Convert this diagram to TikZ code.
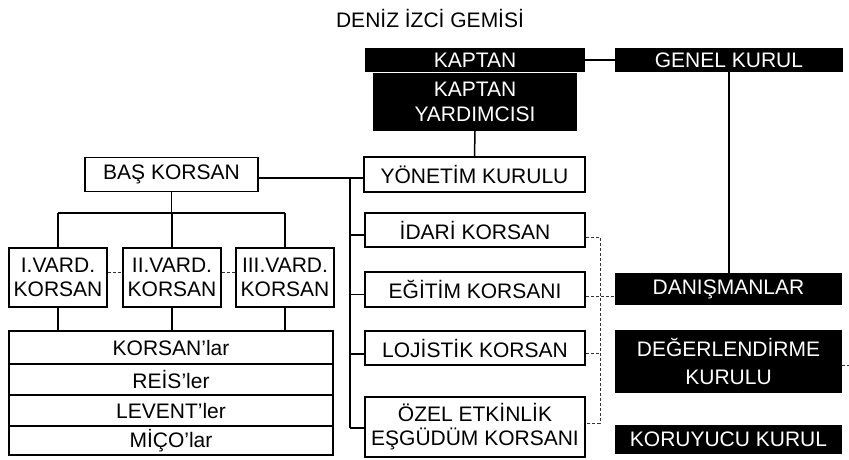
\documentclass[tikz,border=0pt]{standalone}
\usepackage{fontspec}
\setmainfont{Liberation Sans}
\begin{document}
\begin{tikzpicture}[x=1pt,y=-1pt,
  every node/.style={font=\fontsize{21}{24}\selectfont, inner sep=0pt, align=center},
  wbox/.style={draw, line width=1.5pt, fill=white, text=black},
  bbox/.style={fill=black, text=white},
  conn/.style={line width=1.5pt},
  dconn/.style={line width=0.9pt, black!80, dash pattern=on 3pt off 2pt}]
\useasboundingbox (0,0) rectangle (849,459);
% title
\node (title) at (430,18) {DENİZ İZCİ GEMİSİ};
% black boxes
\node[bbox, minimum width=220pt, minimum height=24pt] (kaptan) at (475,60) {KAPTAN};
\node[bbox, minimum width=228pt, minimum height=24pt] (genel) at (729,60) {GENEL KURUL};
\node[bbox, minimum width=204pt, minimum height=58pt, font=\fontsize{21}{24.5}\selectfont] (yard) at (475,102) {KAPTAN\\YARDIMCISI};
\node[bbox, minimum width=227pt, minimum height=32pt] (dan) at (728.5,289) {DANIŞMANLAR};
\node[bbox, minimum width=227pt, minimum height=63pt, font=\fontsize{21}{28}\selectfont] (deg) at (728.5,361.5) {DEĞERLENDİRME\\KURULU};
\node[bbox, minimum width=227pt, minimum height=29pt] (koru) at (728.5,439.5) {KORUYUCU KURUL};
% white boxes
\node[wbox, minimum width=221pt, minimum height=35pt] (yon) at (474.5,174.5) {YÖNETİM KURULU};
\node[wbox, minimum width=173pt, minimum height=34pt] (bas) at (171.5,174.5) {BAŞ KORSAN};
\node[wbox, minimum width=98pt, minimum height=59pt] (v1) at (58,277.5) {I.VARD.\\KORSAN};
\node[wbox, minimum width=98pt, minimum height=59pt] (v2) at (172,277.5) {II.VARD.\\KORSAN};
\node[wbox, minimum width=98pt, minimum height=59pt] (v3) at (285,277.5) {III.VARD.\\KORSAN};
\node[wbox, minimum width=324pt, minimum height=33pt] (kl) at (171,347.5) {KORSAN’lar};
\node[wbox, minimum width=324pt, minimum height=31pt] (reis) at (171,379.5) {REİS’ler};
\node[wbox, minimum width=324pt, minimum height=31pt] (lev) at (171,410.5) {LEVENT’ler};
\node[wbox, minimum width=324pt, minimum height=29pt] (mico) at (171,440.5) {MİÇO’lar};
\node[wbox, minimum width=220pt, minimum height=34pt] (idari) at (475,230) {İDARİ KORSAN};
\node[wbox, minimum width=220pt, minimum height=35pt] (egt) at (475,289.5) {EĞİTİM KORSANI};
\node[wbox, minimum width=220pt, minimum height=34pt] (loj) at (475,348) {LOJİSTİK KORSAN};
\node[wbox, minimum width=220pt, minimum height=60pt] (ozel) at (475,427) {ÖZEL ETKİNLİK\\EŞGÜDÜM KORSANI};
% coordinates
\coordinate (trTop) at (350,178);
\coordinate (trBot) at (350,428);
\coordinate (busL) at (58,213);
\coordinate (busR) at (285,213);
\coordinate (dTop) at (600,237);
\coordinate (dEnd) at (849,365);
% solid connectors
\draw[conn] (kaptan.east) -- (genel.west);
\draw[conn] (yard.south) -- (yon.north);
\draw[conn] (genel.south) -- (genel.south |- dan.north);
\draw[conn] (bas.east |- trTop) -- (yon.west |- trTop);
\draw[conn] (trTop) -- (trBot);
\draw[conn] ([yshift=-5pt]trTop |- idari.west) -- ([yshift=-5pt]idari.west);
\draw[conn] ([yshift=-5pt]trTop |- egt.west) -- ([yshift=-5pt]egt.west);
\draw[conn] ([yshift=-6pt]trTop |- loj.west) -- ([yshift=-6pt]loj.west);
\draw[conn] (trBot) -- (ozel.west |- trBot);
\draw[conn] (bas.south) -- (bas.south |- busL);
\draw[conn] (busL) -- (busR);
\draw[conn] (v1.north) -- (v1.north |- busL);
\draw[conn] (v2.north) -- (v2.north |- busL);
\draw[conn] (v3.north) -- (v3.north |- busL);
\draw[conn] (v1.south) -- (v1.south |- kl.north);
\draw[conn] (v2.south) -- (v2.south |- kl.north);
\draw[conn] (v3.south) -- (v3.south |- kl.north);
% dashed connectors
\draw[dconn] ([yshift=5pt]v1.east) -- ([yshift=5pt]v2.west);
\draw[dconn] ([yshift=5pt]v2.east) -- ([yshift=5pt]v3.west);
\draw[dconn] (idari.east |- dTop) -- (dTop) -- ([yshift=4pt]ozel.east -| dTop) -- ([yshift=4pt]ozel.east);
\draw[dconn] ([yshift=-7pt]egt.east) -- ([yshift=-7pt]egt.east -| dan.west);
\draw[dconn] ([yshift=-5pt]loj.east) -- ([yshift=-5pt]loj.east -| dTop);
\draw[dconn] (deg.east |- dEnd) -- (dEnd);
\end{tikzpicture}
\end{document}
